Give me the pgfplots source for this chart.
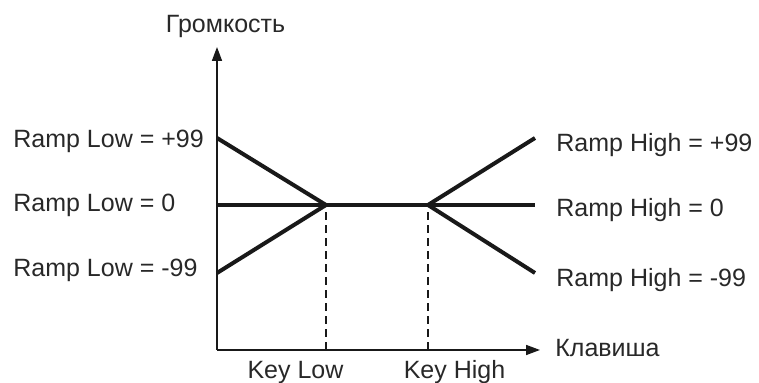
\documentclass[border=0pt]{standalone}
\usepackage{fontspec}
\setmainfont{Liberation Sans}
\usepackage{pgfplots}
\pgfplotsset{compat=1.18}
\usetikzlibrary{arrows.meta}
\definecolor{ink}{RGB}{25,25,25}
\definecolor{txt}{RGB}{40,40,40}
\newcommand{\lbl}{\fontsize{12.5}{15}\selectfont}

\begin{document}
\begin{tikzpicture}
\begin{axis}[
  x=0.5pt, y=0.5pt,
  xmin=0, xmax=323, ymin=0, ymax=303,
  axis lines*=left,
  separate axis lines,
  x axis line style={ink, line width=0.8pt, -{Triangle[length=7pt,width=5pt]}},
  y axis line style={ink, line width=0.8pt, -{Triangle[length=7pt,width=5pt]}},
  xtick={78.5,237.5}, xticklabels={Key Low, Key High},
  ytick=\empty,
  major tick length=0pt,
  xticklabel style={font=\lbl, text=txt, anchor=base, inner sep=0pt, yshift=-14.5pt},
  xlabel={Клавиша}, ylabel={Громкость},
  every axis x label/.style={at={(axis description cs:1.0464,-0.0231)}, anchor=base west, font=\lbl, text=txt, inner sep=0pt},
  every axis y label/.style={at={(axis description cs:0.0263,1.0462)}, anchor=base, font=\lbl, text=txt, inner sep=0pt},
  clip=false,
]
% key zone boundaries
\addplot[ink, line width=0.7pt, dash pattern=on 4pt off 2.5pt] coordinates {(109,0) (109,145)};
\addplot[ink, line width=0.7pt, dash pattern=on 4pt off 2.5pt] coordinates {(211,0) (211,145)};
% ramp low
\addplot[ink, line width=2pt] coordinates {(0,212) (109,145)};
\addplot[ink, line width=2pt] coordinates {(0,145) (109,145)};
\addplot[ink, line width=2pt] coordinates {(0,77) (109,145)};
% flat zone
\addplot[ink, line width=2pt] coordinates {(109,145) (211,145)};
% ramp high
\addplot[ink, line width=2pt] coordinates {(211,145) (318,212)};
\addplot[ink, line width=2pt] coordinates {(211,145) (318,145)};
\addplot[ink, line width=2pt] coordinates {(211,145) (318,77)};

\node[anchor=base west, font=\lbl, text=txt, inner sep=0pt] at (axis cs:-204,202) {Ramp Low = +99};
\node[anchor=base west, font=\lbl, text=txt, inner sep=0pt] at (axis cs:-204,138) {Ramp Low = 0};
\node[anchor=base west, font=\lbl, text=txt, inner sep=0pt] at (axis cs:-204,73) {Ramp Low = -99};
\node[anchor=base west, font=\lbl, text=txt, inner sep=0pt] at (axis cs:339,198) {Ramp High = +99};
\node[anchor=base west, font=\lbl, text=txt, inner sep=0pt] at (axis cs:339,133) {Ramp High = 0};
\node[anchor=base west, font=\lbl, text=txt, inner sep=0pt] at (axis cs:339,63) {Ramp High = -99};

\coordinate (bbsw) at (axis cs:-217,-33);
\coordinate (bbne) at (axis cs:542,350);
\end{axis}
\pgfresetboundingbox
\useasboundingbox (bbsw) rectangle (bbne);
\end{tikzpicture}
\end{document}
